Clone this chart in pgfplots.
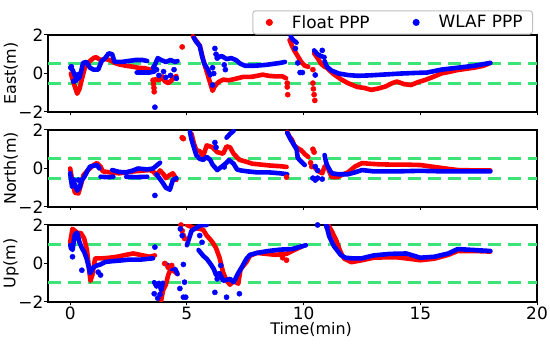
\documentclass[border=0pt]{standalone}
\usepackage{fontspec}
\setmainfont{DejaVu Sans}
\usepackage{pgfplots}
\pgfplotsset{compat=1.18}
\definecolor{dgreen}{RGB}{60,228,120}
\pgfplotsset{
 panel/.style={
  width=489bp, height=77bp, scale only axis,
  xmin=-0.95, xmax=20, ymin=-2, ymax=2,
  xtick={0,5,10,15,20}, ytick={-2,0,2}, yticklabels={−2,0,2},
  tick align=outside, xtick pos=bottom, ytick pos=left,
  major tick length=3.5bp,
  axis line style={line width=1.4bp},
  every tick/.style={black, line width=1bp},
  tick label style={font=\fontsize{17}{17}\selectfont, inner sep=1bp},
  label style={font=\fontsize{16}{16}\selectfont},
  ylabel style={at={(axis description cs:-0.0757,0.5)}, anchor=center},
  unbounded coords=jump,
  anchor=south west,
 },
 rl/.style={red, line width=4.6bp, line cap=round, line join=round},
 bl/.style={blue, line width=4.6bp, line cap=round, line join=round},
 rs/.style={red, only marks, mark=*, mark size=2.6bp},
 bs/.style={blue, only marks, mark=*, mark size=2.6bp},
 gd/.style={dgreen, line width=3bp, dash pattern=on 13bp off 7bp},
}
\begin{document}
\begin{tikzpicture}
\path[use as bounding box] (0,0) rectangle (550bp,344bp);
% ---------------- East ----------------
\begin{axis}[panel, at={(48bp,232bp)}, ylabel={East(m)}, xticklabels={,,,,},
  legend style={at={(0.992,1.005)}, anchor=south east, legend columns=2,
    draw=black!25, line width=1bp, rounded corners=3bp, fill=white,
    font=\fontsize{17}{17}\selectfont,
    inner xsep=8bp, inner ysep=2.5bp,
    /tikz/every even column/.append style={column sep=36bp}}]
\addlegendimage{legend image code/.code={\path (-8bp,0bp) (11bp,0bp); \fill[red] (0bp,0bp) circle (3bp);}}
\addlegendentry{\hspace{9bp}Float PPP}
\addlegendimage{legend image code/.code={\path (-8bp,0bp) (11bp,0bp); \fill[blue] (0bp,0bp) circle (3bp);}}
\addlegendentry{\hspace{9bp}WLAF PPP}
\addplot[gd] coordinates {(-0.95,0.5) (20,0.5)};
\addplot[gd] coordinates {(-0.95,-0.5) (20,-0.5)};
\addplot[rl] coordinates {
(0.03,0.0) (0.15,-0.5) (0.3,-1.05) (0.4,-0.8) (0.5,-0.3) (0.63,0.3) (0.8,0.6) (1.0,0.8) (1.1,0.85) (1.3,0.7) (1.5,0.75) (1.7,0.7) (1.9,0.55) (2.1,0.47) (2.4,0.4) (2.7,0.35) (2.9,0.3) (3.2,0.27) (3.45,0.2)
(3.5,nan)
(3.65,-0.3) (3.8,-0.35) (3.95,-0.15) (4.05,-0.4) (4.2,-0.5) (4.35,-0.35) (4.45,-0.2) (4.55,-0.13)
(4.6,nan)
(5.26,1.93) (5.4,1.7) (5.56,1.43) (5.7,0.7) (5.85,0.1) (6.0,-0.5) (6.1,-0.9) (6.2,-0.65) (6.35,-0.45) (6.55,-0.32) (6.8,-0.35) (7.0,-0.3) (7.4,-0.18) (7.8,-0.17) (8.25,-0.06) (8.5,-0.12) (8.8,-0.15) (9.1,-0.15) (9.25,-0.25)
(9.3,nan)
(9.4,1.74) (9.5,1.45) (9.6,1.2) (9.75,0.9) (9.9,0.6) (10.05,0.4) (10.2,0.35)
(10.3,nan)
(10.45,1.05) (10.6,0.8) (10.75,0.5) (10.9,0.35) (11.0,0.3) (11.25,0.0) (11.6,-0.3) (11.9,-0.5) (12.3,-0.7) (12.6,-0.75) (12.9,-0.85) (13.2,-0.78) (13.5,-0.68) (13.8,-0.5) (14.0,-0.42) (14.3,-0.55) (14.6,-0.6) (14.9,-0.45) (15.2,-0.34) (15.5,-0.2) (15.9,0.0) (16.3,0.1) (16.6,0.18) (17.0,0.25) (17.3,0.3) (17.7,0.4) (18.0,0.55)
};
\addplot[rs] coordinates {(3.55,-0.35) (3.57,-0.55) (3.59,-0.75) (3.6,-0.95) (4.8,1.38) (9.3,-0.5) (9.3,-0.7) (9.32,-1.1) (10.4,-0.5) (10.42,-0.8) (10.45,-1.1) (10.48,-1.4) (10.4,0.2)};
\addplot[bl] coordinates {
(0.0,0.3) (0.1,0.2) (0.2,-0.1) (0.3,-0.3) (0.4,-0.2) (0.45,0.0) (0.55,0.55) (0.7,0.6) (0.85,0.3) (1.0,0.2) (1.2,0.2) (1.35,0.65) (1.5,0.8) (1.65,1.05) (1.8,1.0) (1.9,0.6) (2.2,0.6) (2.5,0.65) (2.8,0.7) (3.1,0.7) (3.3,0.65)
(3.35,nan)
(2.85,0.05) (3.1,0.05) (3.4,0.05) (3.6,0.1)
(3.62,nan)
(3.55,0.3) (3.63,0.45) (3.75,0.8) (3.9,0.7) (4.1,0.6) (4.3,0.7) (4.5,0.6) (4.6,0.65)
(4.7,nan)
(5.3,1.85) (5.4,1.65) (5.55,1.43) (5.65,0.9) (5.75,0.5) (5.9,0.2) (6.0,-0.1)
(6.05,nan)
(6.3,0.85) (6.5,0.9) (6.7,0.75) (6.9,0.8) (7.1,0.7) (7.3,0.5) (7.5,0.4) (7.8,0.4) (8.1,0.42) (8.4,0.45) (8.7,0.5) (9.0,0.55) (9.2,0.6)
(9.3,nan)
(9.45,1.9) (9.55,1.75) (9.7,1.6)
(9.8,nan)
(10.45,1.2) (10.6,1.0) (10.75,0.9) (10.9,0.85)
(10.92,nan)
(10.9,0.65) (11.0,0.35) (11.2,0.15) (11.5,0.0) (11.9,-0.08) (12.3,-0.12) (12.8,-0.1) (13.5,-0.05) (14.2,0.0) (14.8,0.03) (15.3,0.05) (15.9,0.2) (16.6,0.3) (17.3,0.4) (18.0,0.55)
};
\addplot[bs] coordinates {(0.05,0.35) (0.15,-0.4) (0.25,-0.35) (0.35,-0.05) (3.63,-1.75) (3.7,0.2) (4.0,0.1) (4.1,-0.2) (4.3,-0.1) (4.45,0.2) (4.55,-0.25) (3.8,-0.1) (6.1,-0.6) (6.2,1.3) (6.25,1.0) (6.3,0.8) (6.6,0.45) (6.65,0.2) (6.1,0.3) (6.15,0.0) (9.75,0.55) (9.85,0.05) (9.95,0.05) (10.5,-0.08) (9.65,1.3) (10.8,1.2)};
\end{axis}
% ---------------- North ----------------
\begin{axis}[panel, at={(48bp,137bp)}, ylabel={North(m)}, xticklabels={,,,,}]
\addplot[gd] coordinates {(-0.95,0.5) (20,0.5)};
\addplot[gd] coordinates {(-0.95,-0.5) (20,-0.5)};
\addplot[rl] coordinates {
(0.0,0.0) (0.1,-0.7) (0.2,-1.25) (0.35,-1.3) (0.45,-0.9) (0.57,-0.35) (0.75,-0.1) (1.0,0.18) (1.15,0.28) (1.3,0.1) (1.4,-0.15) (1.7,-0.2) (2.1,-0.25) (2.4,-0.2) (2.7,-0.15) (3.0,-0.12) (3.4,-0.08) (3.55,-0.15) (3.7,-0.35) (3.85,-0.1) (4.0,-0.3) (4.1,-0.5) (4.25,-0.35) (4.4,-0.25) (4.5,-0.45) (4.55,-0.6)
(4.6,nan)
(5.2,1.8) (5.3,1.3) (5.4,0.96) (5.55,0.9) (5.7,0.65) (5.85,1.2) (6.1,1.1) (6.3,0.85) (6.55,0.77) (6.7,1.15) (6.85,1.1) (7.0,0.77) (7.25,0.45) (7.55,0.35) (7.8,0.25) (8.2,0.2) (8.6,0.15) (9.0,0.12) (9.27,0.08)
(9.28,nan)
(9.3,1.9) (9.4,1.65) (9.5,1.5) (9.6,1.2) (9.75,1.05) (9.9,0.95) (10.05,0.75) (10.2,0.6)
(10.3,nan)
(10.5,0.0) (10.65,-0.15) (10.8,-0.25) (10.9,0.1) (11.0,0.15) (11.2,-0.45) (11.45,-0.45) (11.7,-0.3) (11.9,-0.2) (12.2,0.1) (12.5,0.28) (12.8,0.25) (13.2,0.22) (13.8,0.2) (14.4,0.2) (15.0,0.18) (15.6,0.08) (16.2,-0.02) (16.6,-0.08) (17.3,-0.1) (18.0,-0.1)
};
\addplot[rs] coordinates {(4.8,1.6) (4.85,1.55) (9.27,-0.45) (10.4,1.0) (10.45,0.85) (10.3,0.3) (10.35,0.1)};
\addplot[bl] coordinates {
(0.0,-0.25) (0.08,-0.95) (0.2,-0.8) (0.3,-1.15) (0.4,-1.0) (0.5,-0.6) (0.6,-0.45) (0.75,-0.1) (0.85,0.1) (1.15,0.18) (1.25,0.0)
(1.27,nan)
(1.3,-0.43) (1.6,-0.45) (1.85,-0.43)
(1.86,nan)
(1.8,-0.08) (2.1,-0.18) (2.4,-0.2) (2.7,-0.1) (2.9,0.0) (3.3,-0.05) (3.55,0.0) (3.85,0.3)
(3.86,nan)
(2.4,-0.43) (2.8,-0.45) (3.3,-0.43)
(3.31,nan)
(3.7,-0.3) (3.97,-0.75) (4.1,-1.0) (4.27,-1.1) (4.4,-0.6) (4.55,-0.5)
(4.6,nan)
(5.13,1.9) (5.2,1.5) (5.3,1.1) (5.4,0.7) (5.55,0.5) (5.7,0.45) (5.85,0.6) (6.0,0.45) (6.1,0.2) (6.3,-0.08) (6.5,0.1) (6.7,0.3) (6.8,0.44) (7.0,0.25) (7.15,-0.05) (7.3,-0.1) (7.6,-0.15) (8.0,-0.2) (8.5,-0.2) (9.0,-0.25) (9.3,-0.3)
(9.31,nan)
(6.7,1.6) (6.85,1.8) (7.0,1.95)
(7.01,nan)
(9.3,1.85) (9.45,1.5) (9.6,1.2) (9.7,1.0) (9.75,0.55) (9.9,0.35) (10.05,0.18)
(10.1,nan)
(10.9,0.7) (10.95,0.4) (11.0,0.18) (11.2,-0.25) (11.5,-0.3) (11.9,-0.3) (12.2,-0.2) (12.5,-0.08) (13.0,-0.15) (14.0,-0.15) (15.0,-0.12) (16.0,-0.15) (17.0,-0.15) (18.0,-0.15)
};
\addplot[bs] coordinates {(3.63,-1.4) (0.15,-0.6) (0.35,-0.6) (6.2,1.35) (6.25,1.1) (6.6,0.08) (10.4,-0.5) (10.5,-0.6) (10.6,-0.5) (10.5,0.1) (10.6,-0.1) (10.8,-0.55)};
\end{axis}
% ---------------- Up ----------------
\begin{axis}[panel, at={(48bp,42bp)}, ylabel={Up(m)}, xticklabels={0,5,10,15,20},
  xlabel={Time(min)},
  xlabel style={at={(axis description cs:0.538,0)}, anchor=north, yshift=-20bp, inner sep=0pt}]
\addplot[gd] coordinates {(-0.95,1) (20,1)};
\addplot[gd] coordinates {(-0.95,-1) (20,-1)};
\addplot[rl] coordinates {
(0.0,1.1) (0.1,1.8) (0.2,1.7) (0.35,1.55) (0.45,1.6) (0.6,1.3) (0.72,0.7) (0.8,-0.2) (0.87,-0.9) (0.95,-0.6) (1.07,0.27) (1.4,0.27) (1.7,0.3) (2.0,0.35) (2.4,0.45) (2.7,0.52) (3.0,0.45) (3.4,0.35) (3.63,0.42)
(3.7,nan)
(3.9,-1.9) (3.98,-1.4) (4.1,-1.1) (4.2,-0.6) (4.3,-0.3) (4.45,-0.4) (4.6,-0.55)
(4.7,nan)
(5.0,2.0) (5.3,1.85) (5.55,1.8) (5.7,1.75) (5.85,1.45) (6.0,1.25) (6.1,1.1) (6.25,0.8) (6.4,0.3) (6.55,-0.45) (6.7,-0.9) (6.85,-1.1) (7.0,-0.9) (7.2,-1.05) (7.3,-0.3) (7.55,0.07) (7.7,0.4) (8.0,0.55) (8.4,0.5) (8.8,0.45) (9.27,0.5) (9.6,0.7) (9.95,0.9)
(10.0,nan)
(11.0,2.1) (11.2,1.7) (11.4,1.2) (11.55,0.7) (11.65,0.43) (11.75,0.25) (12.05,0.07) (12.5,0.17) (13.0,0.3) (13.5,0.32) (14.0,0.32) (14.5,0.25) (15.0,0.17) (15.6,0.25) (16.2,0.45) (16.6,0.65) (17.3,0.65) (18.0,0.62)
};
\addplot[rs] coordinates {(4.05,0.0) (4.2,-0.2) (4.35,-0.1) (4.75,2.0) (4.8,1.7) (4.85,1.45) (4.9,1.3) (9.27,0.17) (9.1,0.3)};
\addplot[bl] coordinates {
(0.0,0.95) (0.1,0.7) (0.2,1.5) (0.3,1.6) (0.4,1.1) (0.5,0.8) (0.6,0.6) (0.7,0.27) (0.8,-0.2) (0.85,-0.5) (1.0,-0.2) (1.15,-0.1) (1.3,-0.05) (1.5,0.08) (1.8,0.12) (2.1,0.15) (2.5,0.2) (3.0,0.2) (3.55,0.27)
(3.58,nan)
(3.6,-0.97) (3.7,-1.2) (3.8,-1.0) (3.9,-1.4) (3.97,-1.0)
(4.0,nan)
(4.05,0.0) (4.2,-0.1) (4.35,-0.28) (4.5,-0.28) (4.6,-0.55)
(4.7,nan)
(5.0,0.95) (5.2,1.7) (5.4,1.85) (5.6,2.0) (5.85,2.0)
(5.9,nan)
(5.5,0.7) (5.7,0.4) (5.85,0.24) (6.0,0.0) (6.15,-0.28) (6.25,-0.6) (6.4,-0.5) (6.55,-0.9) (6.85,-0.8) (7.0,-0.97) (7.2,-0.5) (7.35,-0.2) (7.55,0.24) (7.7,0.45) (8.0,0.55) (8.5,0.65) (9.0,0.72) (9.5,0.75) (10.1,0.95)
(10.2,nan)
(10.95,2.1) (11.1,1.4) (11.3,0.9) (11.6,0.43) (11.8,0.3) (12.05,0.27) (12.5,0.27) (13.0,0.42) (13.7,0.5) (14.4,0.52) (15.0,0.3) (15.6,0.35) (16.2,0.52) (16.6,0.75) (17.3,0.7) (18.0,0.65)
};
\addplot[bs] coordinates {(0.1,0.35) (0.5,-0.35) (1.3,-0.6) (1.2,-0.45) (0.05,0.8) (3.63,0.85) (3.6,-1.57) (3.75,-1.8) (3.85,-1.6) (4.7,-1.3) (4.85,-1.75) (4.95,-1.75) (4.85,-0.05) (4.9,-0.97) (4.72,1.8) (4.8,1.45) (5.55,1.45) (5.65,1.1) (6.2,-1.5) (6.7,-1.75) (7.25,-1.57) (6.45,-0.1) (6.3,-0.8) (10.6,2.0) (11.0,1.9)};
\end{axis}
\end{tikzpicture}
\end{document}
